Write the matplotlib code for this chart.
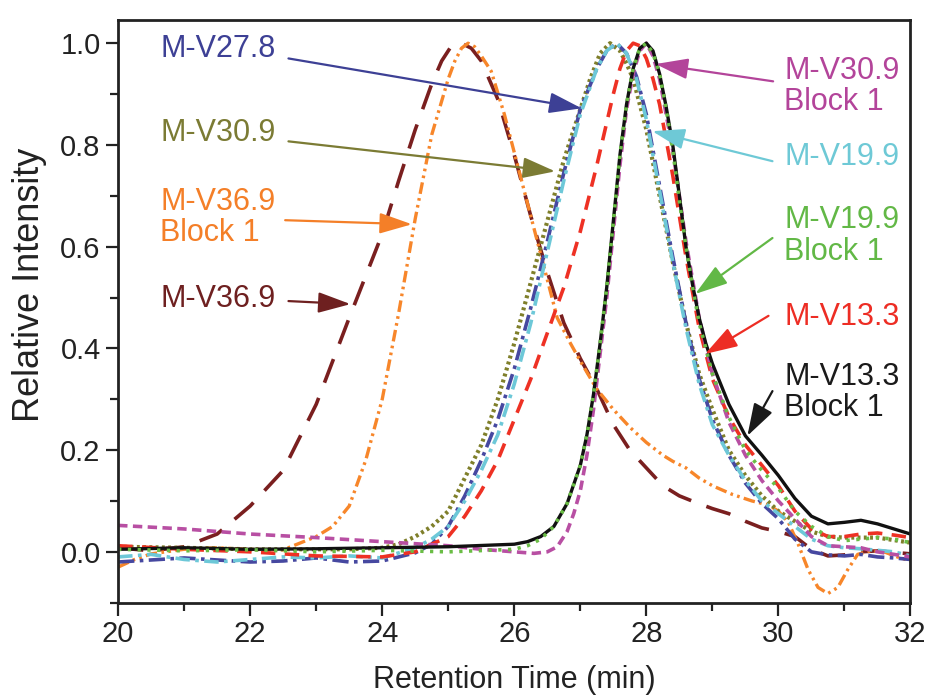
import matplotlib

matplotlib.use("Agg")
import matplotlib.pyplot as plt

plt.rcParams["font.family"] = ["Liberation Sans", "DejaVu Sans"]

# --- M-V13.3 Block 1 (black, solid)
t_k = [20, 21, 22, 23, 24, 25, 26, 26.2, 26.4, 26.6, 26.8, 27.0, 27.1, 27.2, 27.3, 27.4, 27.5,
       27.6, 27.7, 27.8, 27.9, 28.0, 28.1, 28.2, 28.3, 28.4, 28.5, 28.6, 28.7, 28.8, 28.9, 29.0,
       29.25, 29.5, 29.75, 30.0, 30.25, 30.5, 30.75, 31.0, 31.25, 31.5, 31.75, 32]
i_k = [0.005, 0.008, 0.005, 0.006, 0.008, 0.01, 0.015, 0.02, 0.03, 0.05, 0.095, 0.17, 0.23,
       0.31, 0.41, 0.52, 0.65, 0.78, 0.88, 0.95, 0.99, 1.0, 0.985, 0.94, 0.875, 0.80, 0.70,
       0.60, 0.525, 0.46, 0.41, 0.37, 0.29, 0.228, 0.19, 0.15, 0.105, 0.07, 0.055, 0.058,
       0.062, 0.055, 0.045, 0.035]

# --- M-V13.3 (red, dashed)
t_r = [20, 21, 22, 23, 24, 24.5, 25, 25.25, 25.5, 25.75, 26.0, 26.25, 26.5, 26.75, 27.0, 27.25,
       27.5, 27.6, 27.7, 27.8, 27.9, 28.0, 28.1, 28.2, 28.4, 28.6, 28.8, 29.0, 29.25, 29.5,
       29.75, 30.0, 30.25, 30.5, 30.75, 31.0, 31.25, 31.5, 31.75, 32]
i_r = [0.012, 0.005, 0.0, -0.008, -0.01, 0.0, 0.03, 0.07, 0.12, 0.18, 0.26, 0.34, 0.43, 0.52,
       0.63, 0.76, 0.90, 0.95, 0.985, 1.0, 0.995, 0.97, 0.93, 0.88, 0.74, 0.58, 0.44, 0.34,
       0.265, 0.21, 0.17, 0.13, 0.08, 0.045, 0.03, 0.03, 0.035, 0.037, 0.033, 0.028]

# --- M-V19.9 Block 1 (green, short dashes)
t_g = [20, 21, 22, 23, 24, 25, 26, 26.2, 26.4, 26.6, 26.8, 27.0, 27.1, 27.2, 27.3, 27.4, 27.5,
       27.6, 27.7, 27.8, 27.9, 28.0, 28.1, 28.2, 28.3, 28.4, 28.5, 28.6, 28.7, 28.8, 29.0,
       29.25, 29.5, 29.75, 30.0, 30.25, 30.5, 30.75, 31.0, 31.25, 31.5, 31.75, 32]
i_g = [0.005, 0.002, 0.004, 0.0, 0.003, 0.0, 0.005, 0.012, 0.025, 0.05, 0.095, 0.17, 0.23,
       0.31, 0.41, 0.52, 0.65, 0.78, 0.88, 0.95, 0.99, 1.0, 0.98, 0.94, 0.87, 0.79, 0.69, 0.60,
       0.52, 0.45, 0.35, 0.265, 0.20, 0.16, 0.125, 0.08, 0.05, 0.03, 0.022, 0.025, 0.028,
       0.025, 0.018]

# --- M-V19.9 (cyan, dash-dot)
t_c = [20, 20.5, 21, 21.5, 22, 22.5, 23, 23.5, 24, 24.5, 24.75, 25.0, 25.25, 25.5, 25.75, 26.0,
       26.25, 26.5, 26.75, 27.0, 27.25, 27.4, 27.55, 27.7, 27.85, 28.0, 28.2, 28.4, 28.6, 28.8,
       29.0, 29.25, 29.5, 29.75, 30.0, 30.25, 30.5, 30.75, 31.0, 31.25, 31.5, 31.75, 32]
i_c = [-0.01, -0.005, -0.015, -0.02, -0.015, -0.01, -0.012, -0.008, -0.012, 0.008, 0.025, 0.05,
       0.1, 0.16, 0.23, 0.33, 0.45, 0.59, 0.73, 0.86, 0.95, 0.985, 1.0, 0.98, 0.93, 0.85, 0.71,
       0.57, 0.44, 0.33, 0.25, 0.19, 0.14, 0.10, 0.075, 0.05, 0.025, 0.012, 0.008, 0.006,
       0.003, 0.0, -0.008]

# --- M-V30.9 Block 1 (magenta, dashed)
t_m = [20, 21, 22, 23, 24, 25, 25.5, 26, 26.3, 26.5, 26.65, 26.8, 26.9, 27.0, 27.1, 27.2, 27.3,
       27.4, 27.5, 27.6, 27.7, 27.8, 27.9, 28.0, 28.1, 28.2, 28.4, 28.6, 28.8, 29.0, 29.25, 29.5,
       29.75, 30.0, 30.25, 30.5, 30.75, 31.0, 31.25, 31.5, 31.75, 32]
i_m = [0.052, 0.045, 0.035, 0.028, 0.02, 0.012, 0.005, 0.0, -0.003, 0.0, 0.01, 0.04, 0.075,
       0.12, 0.19, 0.28, 0.39, 0.50, 0.63, 0.76, 0.87, 0.94, 0.985, 1.0, 0.975, 0.93, 0.79,
       0.61, 0.46, 0.35, 0.255, 0.19, 0.14, 0.10, 0.065, 0.03, 0.012, 0.01, 0.008, 0.0, -0.005,
       -0.01]

# --- M-V30.9 (olive, dotted)
t_o = [20, 21, 22, 23, 23.5, 24, 24.25, 24.5, 24.75, 25.0, 25.25, 25.5, 25.75, 26.0, 26.25,
       26.5, 26.75, 27.0, 27.15, 27.3, 27.45, 27.6, 27.7, 27.8, 28.0, 28.2, 28.4, 28.6, 28.8,
       29.0, 29.25, 29.5, 29.75, 30.0, 30.25, 30.5, 30.75, 31.0, 31.5, 32]
i_o = [0.01, 0.008, 0.005, 0.005, 0.005, 0.008, 0.015, 0.03, 0.05, 0.08, 0.145, 0.21, 0.30,
       0.41, 0.53, 0.65, 0.77, 0.87, 0.93, 0.98, 1.0, 0.985, 0.96, 0.93, 0.83, 0.70, 0.57,
       0.45, 0.35, 0.28, 0.20, 0.15, 0.11, 0.08, 0.06, 0.04, 0.03, 0.028, 0.028, 0.018]

# --- M-V27.8 (blue, dash-dot)
t_b = [20, 21, 22, 22.5, 23, 23.5, 24, 24.5, 24.75, 25.0, 25.25, 25.5, 25.75, 26.0, 26.25, 26.5,
       26.75, 27.0, 27.25, 27.4, 27.55, 27.7, 27.85, 28.0, 28.2, 28.4, 28.6, 28.8, 29.0, 29.25,
       29.5, 29.75, 30.0, 30.25, 30.5, 30.75, 31.0, 31.25, 31.5, 31.75, 32]
i_b = [-0.02, -0.012, -0.02, -0.018, -0.012, -0.02, -0.018, -0.002, 0.015, 0.05, 0.11, 0.18,
       0.26, 0.36, 0.48, 0.61, 0.745, 0.87, 0.95, 0.985, 1.0, 0.98, 0.935, 0.86, 0.72, 0.58,
       0.45, 0.34, 0.26, 0.19, 0.135, 0.095, 0.065, 0.025, 0.0, -0.006, -0.008, -0.005, -0.01,
       -0.012, -0.015]

# --- M-V36.9 Block 1 (orange, dash-dot-dot)
t_y = [20, 20.25, 20.5, 21, 21.5, 22, 22.5, 23, 23.25, 23.5, 23.75, 24.0, 24.25, 24.5, 24.75,
       25.0, 25.1, 25.2, 25.3, 25.4, 25.5, 25.65, 25.85, 26.05, 26.25, 26.45, 26.65, 26.85,
       27.0, 27.25, 27.5, 27.75, 28.0, 28.25, 28.4, 28.6, 28.8, 29.0, 29.3, 29.6, 29.85, 30.0,
       30.15, 30.3, 30.45, 30.6, 30.75, 30.9, 31.05, 31.2, 31.4, 31.6, 31.8, 32]
i_y = [-0.03, -0.015, -0.004, 0.005, 0.008, 0.005, 0.004, 0.03, 0.05, 0.09, 0.18, 0.30, 0.47,
       0.655, 0.82, 0.93, 0.965, 0.99, 1.0, 0.993, 0.975, 0.945, 0.86, 0.76, 0.66, 0.56, 0.46,
       0.41, 0.375, 0.32, 0.28, 0.245, 0.215, 0.19, 0.178, 0.165, 0.145, 0.13, 0.113, 0.10,
       0.092, 0.08, 0.058, 0.015, -0.035, -0.07, -0.082, -0.07, -0.035, -0.005, 0.002, 0.0,
       -0.01, -0.018]

# --- M-V36.9 (dark red, long dashes)
t_d = [20, 20.5, 21, 21.5, 22, 22.5, 23, 23.5, 24, 24.25, 24.5, 24.75, 24.9, 25.05, 25.2, 25.35,
       25.5, 25.75, 26.0, 26.25, 26.5, 26.75, 27.0, 27.25, 27.5, 27.75, 28.0, 28.25, 28.5,
       28.75, 29.0, 29.25, 29.5, 29.75, 30.0, 30.25, 30.5, 30.75, 31.0, 31.25, 31.5, 32]
i_d = [0.008, 0.002, 0.01, 0.035, 0.09, 0.16, 0.29, 0.46, 0.625, 0.73, 0.83, 0.92, 0.965, 0.995,
       1.0, 0.99, 0.965, 0.89, 0.78, 0.66, 0.55, 0.45, 0.38, 0.32, 0.25, 0.20, 0.165, 0.13,
       0.11, 0.097, 0.085, 0.075, 0.06, 0.047, 0.04, 0.03, 0.005, -0.008, -0.006, 0.0, 0.002,
       -0.004]

x_ticks = [20, 22, 24, 26, 28, 30, 32]
y_ticks = [0.0, 0.2, 0.4, 0.6, 0.8, 1.0]

fig = plt.figure(figsize=(9.3, 7), dpi=100)
ax = fig.add_axes([0.127, 0.139, 0.852, 0.832])

ax.plot(t_d, i_d, color="#7a1f1f", lw=2.6, linestyle=(0, (7, 4.5)))
ax.plot(t_y, i_y, color="#f7862a", lw=2.4, linestyle=(0, (3.5, 1.3, 0.8, 1.3, 0.8, 1.3)))
ax.plot(t_o, i_o, color="#7f7f2a", lw=3.0, linestyle=(0, (0.7, 0.8)))
ax.plot(t_b, i_b, color="#4648a0", lw=2.6, linestyle=(0, (4.5, 1.5, 1.0, 1.5)))
ax.plot(t_c, i_c, color="#6dc8d8", lw=2.6, linestyle=(0, (4, 1.5, 1.0, 1.5)))
ax.plot(t_r, i_r, color="#ee3124", lw=2.6, linestyle=(0, (4, 2.6)))
ax.plot(t_m, i_m, color="#b84fa3", lw=2.6, linestyle=(0, (2.6, 1.5)))
ax.plot(t_k, i_k, color="#111111", lw=2.4)
ax.plot(t_g, i_g, color="#6abd45", lw=2.6, linestyle=(0, (0.9, 1.8)))

ax.set_xlim(20, 32)
ax.set_ylim(-0.1, 1.045)
ax.set_xticks(x_ticks)
ax.set_yticks(y_ticks)
ax.set_xticks([21, 23, 25, 27, 29, 31], minor=True)
ax.set_yticks([-0.1, 0.1, 0.3, 0.5, 0.7, 0.9], minor=True)
ax.set_yticklabels([f"{v:.1f}" for v in y_ticks])
ax.tick_params(which="major", direction="out", length=9, width=1.6, color="#222222",
               labelsize=21, top=False, right=False, labelcolor="#222222")
ax.tick_params(which="minor", direction="out", length=6, width=1.6, color="#222222",
               top=False, right=False)
for sp in ax.spines.values():
    sp.set_linewidth(2.0)
    sp.set_color("#222222")

ax.set_xlabel("Retention Time (min)", fontsize=22, color="#222222", labelpad=12)
ax.set_ylabel("Relative Intensity", fontsize=26, color="#222222", labelpad=8)
ax.yaxis.set_label_coords(-0.09, 0.545)

fs = 22
notes = [
    ("M-V27.8", "#3d4095", (20.64, 0.988), (22.58, 0.97), (27.02, 0.872)),
    ("M-V30.9", "#7b7b34", (20.64, 0.823), (22.58, 0.807), (26.62, 0.748)),
    ("M-V36.9\nBlock 1", "#f47f28", (20.64, 0.658), (22.53, 0.652), (24.45, 0.644)),
    ("M-V36.9", "#6e2020", (20.64, 0.497), (22.58, 0.493), (23.52, 0.487)),
    ("M-V30.9\nBlock 1", "#b3449a", (30.09, 0.915), (29.92, 0.925), (28.14, 0.959)),
    ("M-V19.9", "#6ec9d6", (30.09, 0.776), (29.91, 0.768), (28.09, 0.827)),
    ("M-V19.9\nBlock 1", "#62b846", (30.09, 0.621), (29.91, 0.617), (28.74, 0.507)),
    ("M-V13.3", "#ed2d24", (30.09, 0.462), (29.85, 0.464), (28.89, 0.389)),
    ("M-V13.3\nBlock 1", "#1a1a1a", (30.09, 0.314), (29.91, 0.316), (29.53, 0.228)),
]
for label, col, pos, start, end in notes:
    ax.text(pos[0], pos[1], label, color=col, fontsize=fs, ha="left", va="center",
            linespacing=1.05)
    ax.annotate("", xy=end, xytext=start,
                arrowprops=dict(arrowstyle="-|>,head_length=1.0,head_width=0.32",
                                color=col, lw=1.6, mutation_scale=20,
                                shrinkA=0, shrinkB=0))

fig.savefig("out.png", dpi=100)
